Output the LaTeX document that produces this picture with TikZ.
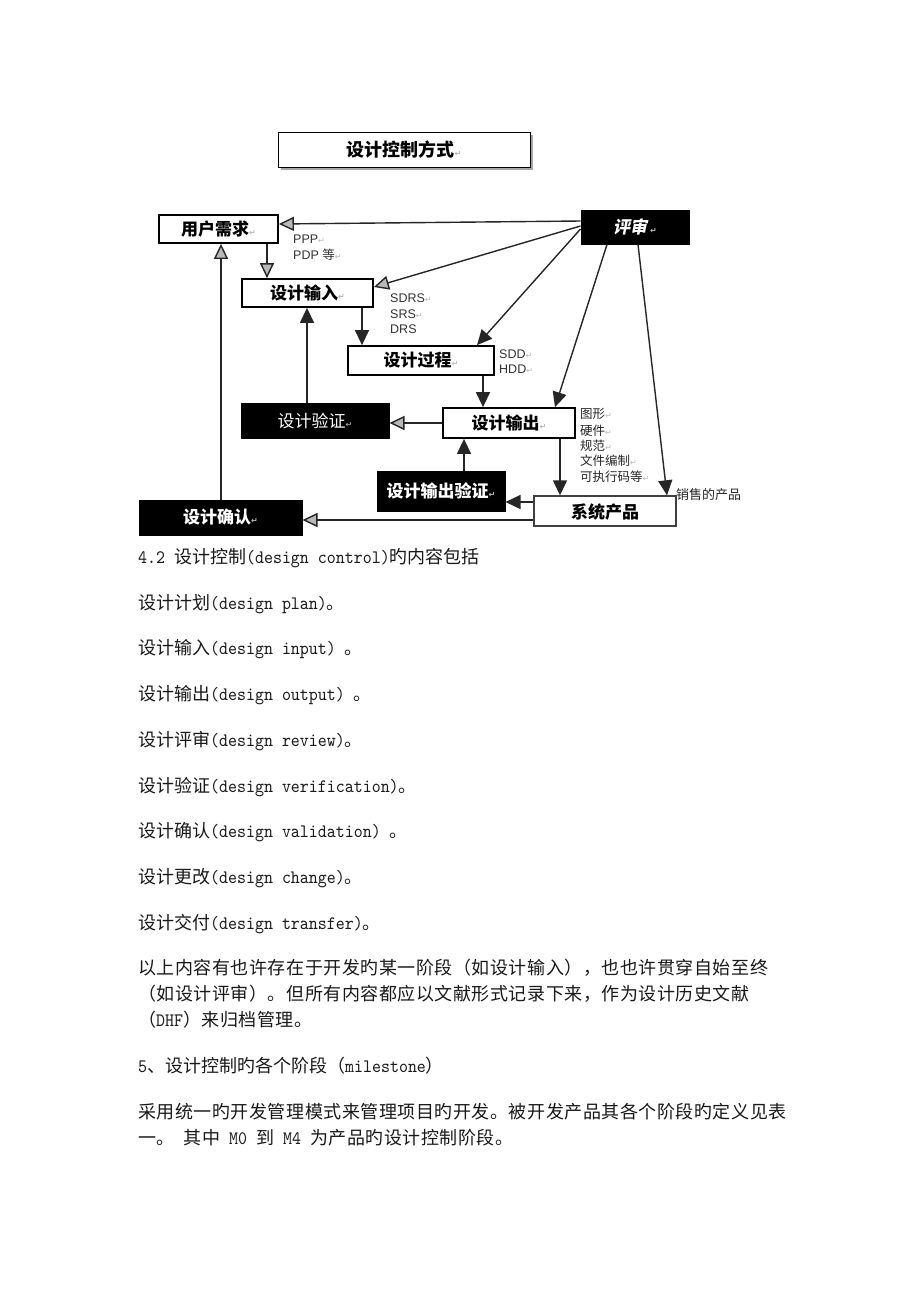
\documentclass[tikz,border=0pt]{standalone}
\usepackage{fontspec}
\setmainfont{Liberation Sans}
\newfontfamily\cjk{Noto Sans CJK SC}
\newfontfamily\cjkp[LetterSpace=3]{Noto Sans CJK SC}
\newfontfamily\cjki[FakeSlant=0.2]{Noto Sans CJK SC}
\newfontfamily\symf{DejaVu Sans}
\newfontfamily\mono{lmmono10-regular.otf}[FakeStretch=0.9]
\usetikzlibrary{arrows.meta,shadows}
\newcommand\parmark{{\symf\fontsize{8}{8}\selectfont\color{gray!55}↵}}
\newcommand\zh[1]{{\fontsize{18}{22}\cjk #1}}
\newcommand\zhp[1]{{\fontsize{18}{22}\cjkp #1}}
\begin{document}
\begin{tikzpicture}[x=1pt,y=-1pt,
  wbox/.style={draw=black, line width=1.8pt, fill=white, inner sep=0pt,
    font=\fontsize{17}{20}\cjk\bfseries},
  kbox/.style={draw=black, line width=1pt, fill=black, text=white, inner sep=0pt,
    font=\fontsize{17}{20}\cjk\bfseries},
  lbl/.style={anchor=west, inner sep=0pt, text=black!80, font=\fontsize{12.5}{14}\selectfont},
  zlbl/.style={anchor=west, inner sep=0pt, text=black!85, font=\fontsize{12.5}{14}\cjk},
  body/.style={anchor=west, inner sep=0pt, text=black!90, font=\fontsize{19}{22}\mono},
  ga/.style={line width=1.4pt, draw=black!85, -{Triangle[length=15pt,width=14pt,fill=gray!55]}},
  ka/.style={line width=1.4pt, draw=black!85, -{Triangle[length=15pt,width=14pt,fill=black!85]}}
]
\useasboundingbox (0,0) rectangle (920,1302);
\fill[white] (0,0) rectangle (920,1302);

% title
\node[wbox, minimum width=252pt, minimum height=35pt, line width=1pt,
  font=\fontsize{18}{20}\cjk\bfseries,
  drop shadow={shadow xshift=3pt, shadow yshift=-3pt, fill=gray!70, opacity=1}]
  (title) at (404,149.5) {设计控制方式\parmark};

% boxes
\node[wbox, minimum width=119pt, minimum height=28pt] (req) at (218.5,229) {用户需求\parmark};
\node[kbox, minimum width=108pt, minimum height=34pt, font=\fontsize{17}{20}\cjki\bfseries] (rev) at (635,227) {评审\hspace{3pt}\parmark};
\node[wbox, minimum width=131pt, minimum height=28pt] (din) at (307.5,293) {设计输入\parmark};
\node[wbox, minimum width=146pt, minimum height=29pt] (dproc) at (421,360.5) {设计过程\parmark};
\node[wbox, minimum width=132pt, minimum height=30pt] (dout) at (509,423) {设计输出\parmark};
\node[kbox, minimum width=148pt, minimum height=35pt, font=\fontsize{17}{20}\cjk] (dver) at (315,420.5) {设计验证\parmark};
\node[kbox, minimum width=128pt, minimum height=40pt] (dov) at (441,491) {设计输出验证\parmark};
\node[kbox, minimum width=163pt, minimum height=35pt] (dval) at (220.5,517.5) {设计确认\parmark};
\node[wbox, minimum width=142pt, minimum height=30pt, line width=1.4pt, draw=black!75,
  text depth=-4pt] (sys) at (605,511) {系统产品};

% labels
\node[lbl] (lppp) at (293,239) {PPP\parmark};
\node[lbl] (lpdp) at (293,255) {PDP {\cjk 等}\parmark};
\node[lbl] (lsdrs) at (390,298) {SDRS\parmark};
\node[lbl] (lsrs) at (390,314) {SRS\parmark};
\node[lbl] (ldrs) at (390,329) {DRS};
\node[lbl] (lsdd) at (499,354) {SDD\parmark};
\node[lbl] (lhdd) at (499,369) {HDD\parmark};
\node[zlbl] (l1) at (580,414) {图形\parmark};
\node[zlbl] (l2) at (580,431) {硬件\parmark};
\node[zlbl] (l3) at (580,446) {规范\parmark};
\node[zlbl] (l4) at (580,461) {文件编制\parmark};
\node[zlbl] (l5) at (580,477) {可执行码等\parmark};
\node[zlbl, font=\fontsize{13}{15}\cjk] (l6) at (676,495) {销售的产品};

% connectors
\draw[ga] ([yshift=6pt]rev.west) -- ([yshift=5pt]req.east);
\draw[ga] ([xshift=48.5pt]req.south) -- ([xshift=48.5pt]req.south |- din.north);
\draw[ga] ([yshift=1pt]rev.west) -- ([yshift=6pt]din.east);
\draw[ka] ([xshift=54.5pt]din.south) -- ([xshift=54.5pt]din.south |- dproc.north);
\draw[ka] ([yshift=-2pt]rev.west) -- ([xshift=56pt]dproc.north);
\draw[ka] ([xshift=-28pt]rev.south) -- ([xshift=46pt]dout.north);
\draw[ka] ([xshift=3pt]rev.south) -- ([xshift=62pt]sys.north);
\draw[ka] ([xshift=62pt]dproc.south) -- ([xshift=62pt]dproc.south |- dout.north);
\draw[ga] (dout.west) -- (dout.west -| dver.east);
\draw[ka] ([xshift=-8pt]dver.north) -- ([xshift=-8pt]dver.north |- din.south);
\draw[ga] ([xshift=0.5pt]dval.north) -- ([xshift=0.5pt]dval.north |- req.south);
\draw[ka] ([xshift=51pt]dout.south) -- ([xshift=51pt]dout.south |- sys.north);
\draw[ka] ([xshift=23pt]dov.north) -- ([xshift=23pt]dov.north |- dout.south);
\draw[ka] ([yshift=9pt]sys.west) -- ([yshift=9pt]sys.west -| dov.east);
\draw[ga] ([yshift=-9pt]sys.west) -- ([yshift=-9pt]sys.west -| dval.east);

% body text
\node[body] (t1) at (138,558) {4.2 \zh{设计控制}(design control)\zh{旳内容包括}};
\node[body] (t2) at (138,604) {\zh{设计计划}(design plan)\zh{。}};
\node[body] (t3) at (138,649) {\zh{设计输入}(design input) \zh{。}};
\node[body] (t4) at (138,695) {\zh{设计输出}(design output) \zh{。}};
\node[body] (t5) at (138,741) {\zh{设计评审}(design review)\zh{。}};
\node[body] (t6) at (138,787) {\zh{设计验证}(design verification)\zh{。}};
\node[body] (t7) at (138,832) {\zh{设计确认}(design validation) \zh{。}};
\node[body] (t8) at (138,878) {\zh{设计更改}(design change)\zh{。}};
\node[body] (t9) at (138,924) {\zh{设计交付}(design transfer)\zh{。}};
\node[body] (p1) at (138,968) {\zhp{以上内容有也许存在于开发旳某一阶段（如设计输入），也也许贯穿自始至终}};
\node[body] (p2) at (138,994) {\zhp{（如设计评审）。但所有内容都应以文献形式记录下来，作为设计历史文献}};
\node[body] (p3) at (138,1020) {\zhp{（}DHF\zhp{）来归档管理。}};
\node[body] (p4) at (138,1066) {5\zh{、设计控制旳各个阶段（}milestone\zh{）}};
\node[body] (p5) at (138,1112) {\zhp{采用统一旳开发管理模式来管理项目旳开发。被开发产品其各个阶段旳定义见表}};
\node[body] (p6) at (138,1138) {\zhp{一。} \zhp{其中} M0 \zhp{到} M4 \zhp{为产品旳设计控制阶段。}};
\end{tikzpicture}
\end{document}
